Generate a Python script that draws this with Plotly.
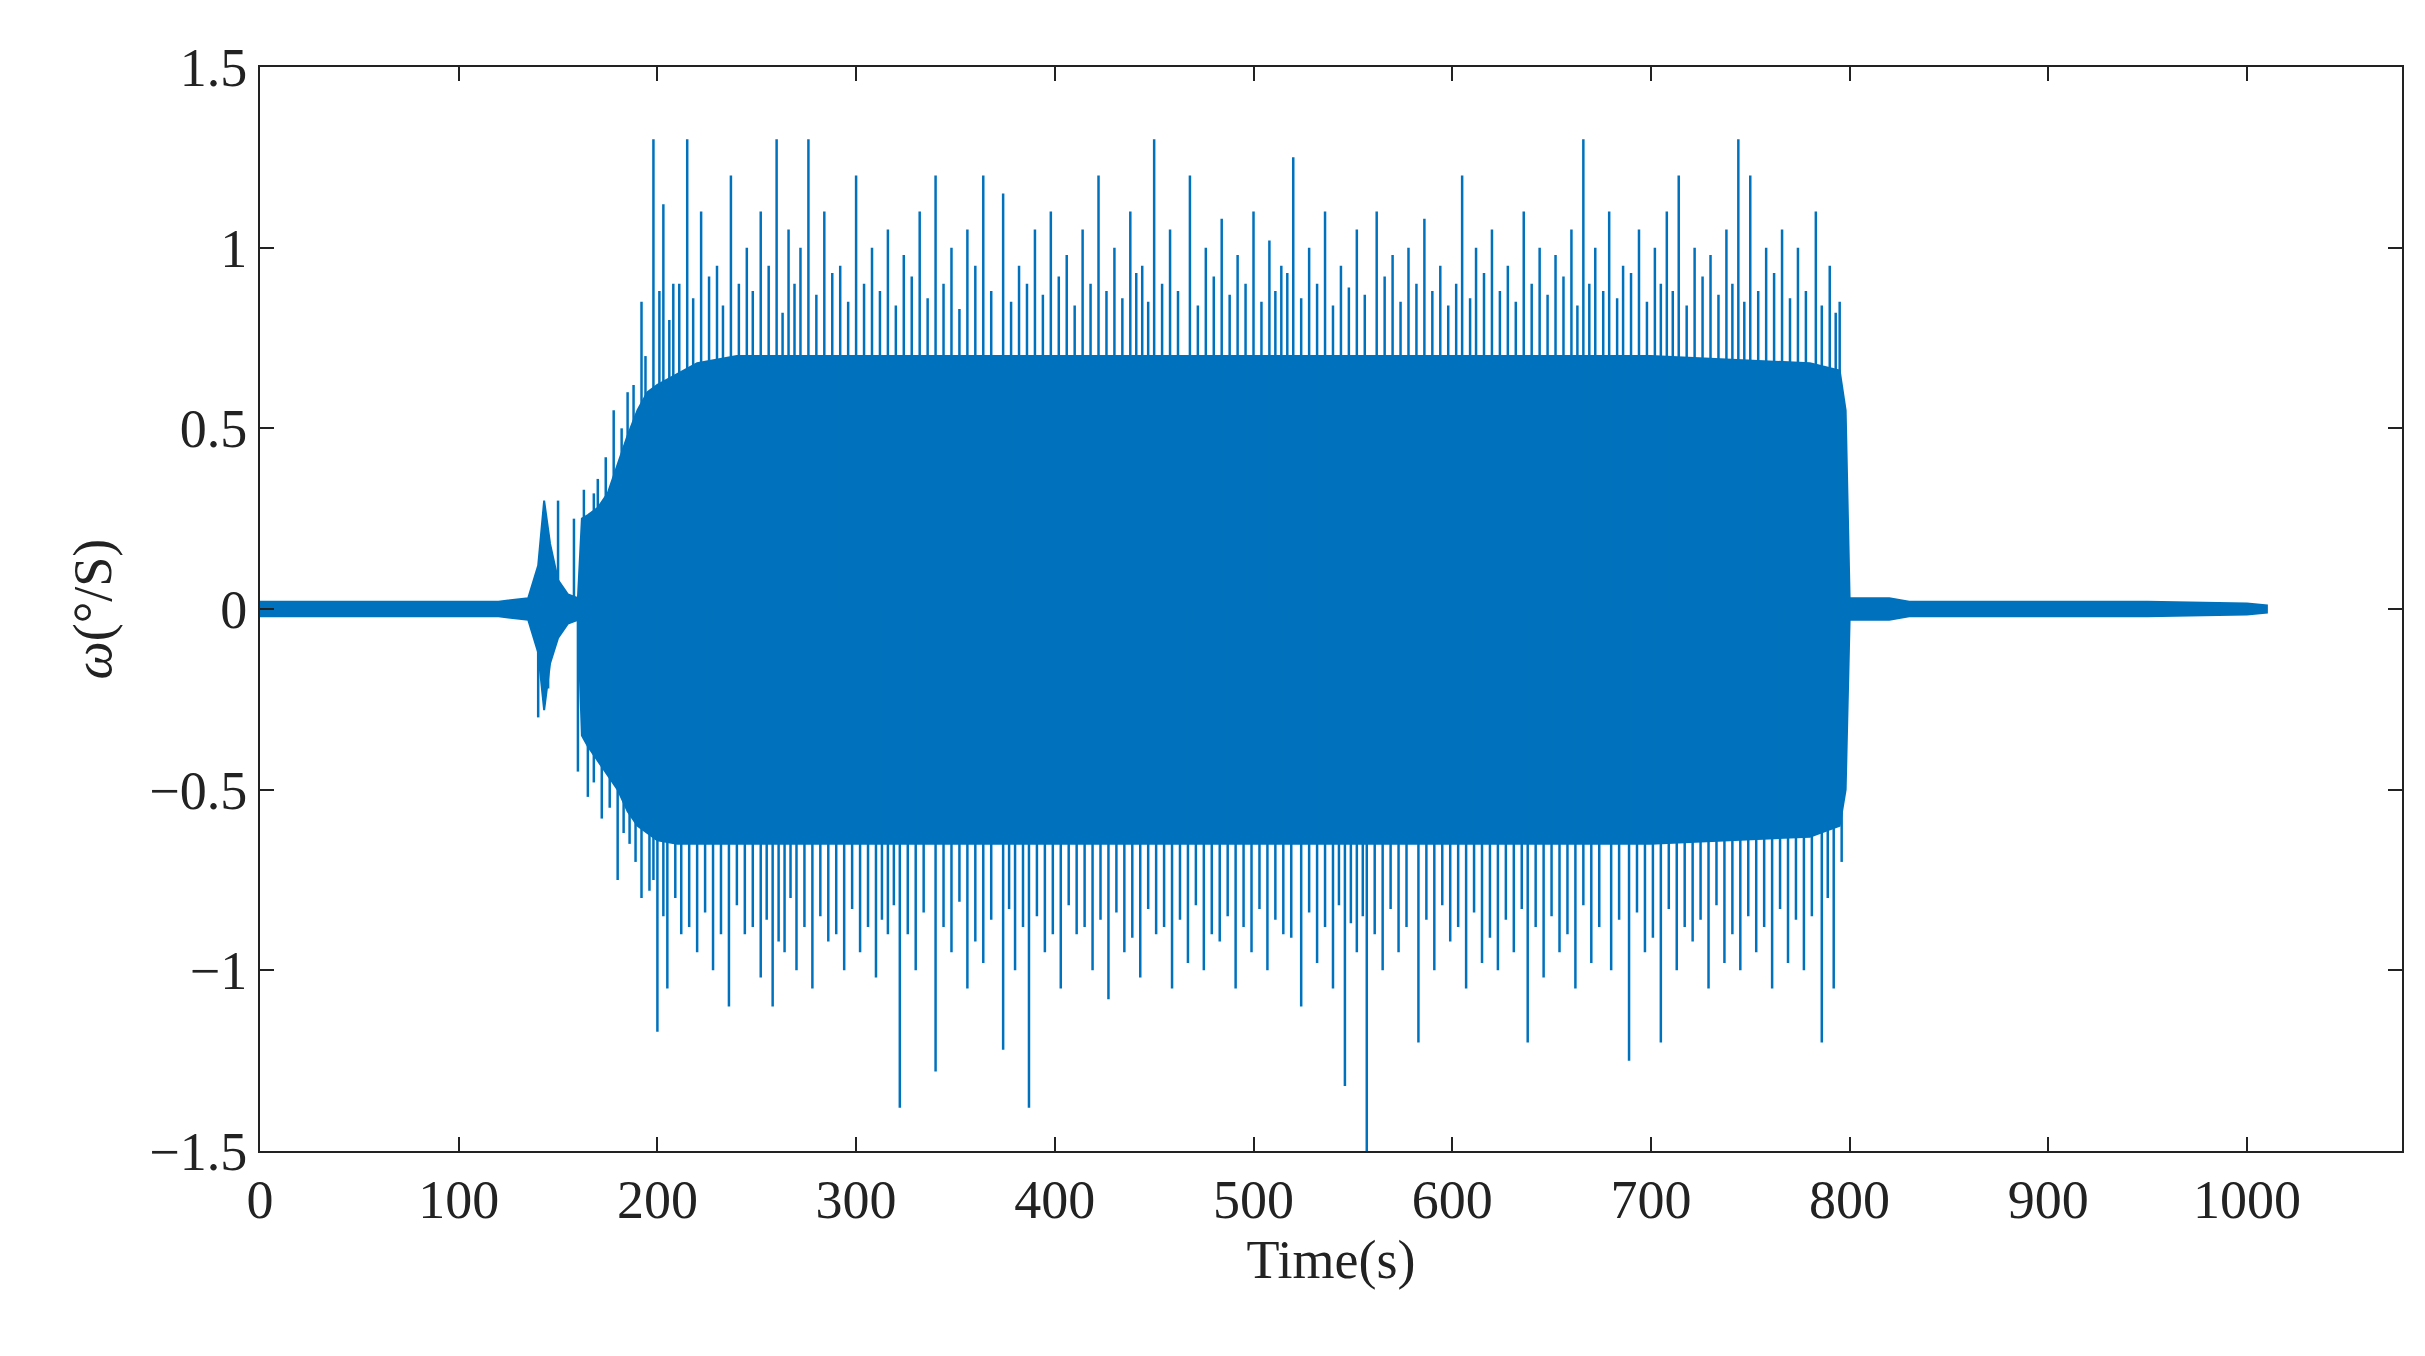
import plotly.graph_objects as go

# Body envelope of the signal (time, upper, lower)
env_t  = [0, 20, 40, 60, 80, 100, 120, 135, 140, 143, 146, 150, 155, 160, 162, 165, 170, 175, 180, 185, 190, 195, 200, 210, 220, 240, 300, 400, 500, 600, 700, 780, 795, 798, 800, 802, 820, 830, 850, 900, 950, 1000, 1010]
env_up = [0.02, 0.02, 0.02, 0.02, 0.02, 0.02, 0.02, 0.03, 0.12, 0.3, 0.18, 0.08, 0.04, 0.03, 0.25, 0.26, 0.28, 0.32, 0.4, 0.48, 0.55, 0.6, 0.62, 0.65, 0.68, 0.7, 0.7, 0.7, 0.7, 0.7, 0.7, 0.68, 0.66, 0.55, 0.03, 0.03, 0.03, 0.02, 0.02, 0.02, 0.02, 0.015, 0.01]
env_lo = [-0.02, -0.02, -0.02, -0.02, -0.02, -0.02, -0.02, -0.03, -0.12, -0.28, -0.15, -0.08, -0.04, -0.03, -0.35, -0.38, -0.42, -0.46, -0.5, -0.56, -0.6, -0.62, -0.64, -0.65, -0.65, -0.65, -0.65, -0.65, -0.65, -0.65, -0.65, -0.63, -0.6, -0.5, -0.03, -0.03, -0.03, -0.02, -0.02, -0.02, -0.02, -0.015, -0.01]

# Tall spikes above body
spk_up_t = [150, 158, 163, 170, 178, 185, 192, 198, 203, 208, 215, 222, 230, 237, 245, 252, 260, 266, 272, 276, 284, 292, 300, 308, 316, 324, 332, 340, 348, 356, 364, 374, 382, 390, 398, 406, 414, 422, 430, 438, 444, 450, 458, 468, 476, 484, 492, 500, 508, 514, 520, 528, 536, 544, 552, 562, 570, 578, 586, 594, 605, 612, 620, 628, 636, 644, 652, 660, 666, 672, 679, 686, 694, 702, 708, 714, 722, 730, 738, 744, 750, 758, 766, 774, 783, 790, 795]
spk_up_v = [0.3, 0.25, 0.33, 0.36, 0.55, 0.6, 0.85, 1.3, 1.12, 0.9, 1.3, 1.1, 0.95, 1.2, 1.0, 1.1, 1.3, 1.05, 1.0, 1.3, 1.1, 0.95, 1.2, 1.0, 1.05, 0.98, 1.1, 1.2, 1.0, 1.05, 1.2, 1.15, 0.95, 1.05, 1.1, 0.98, 1.05, 1.2, 1.0, 1.1, 0.95, 1.3, 1.05, 1.2, 1.0, 1.08, 0.98, 1.1, 1.02, 0.95, 1.25, 1.0, 1.1, 0.95, 1.05, 1.1, 0.98, 1.0, 1.08, 0.95, 1.2, 1.0, 1.05, 0.95, 1.1, 1.0, 0.98, 1.05, 1.3, 1.0, 1.1, 0.95, 1.05, 1.0, 1.1, 1.2, 1.0, 0.98, 1.05, 1.3, 1.2, 1.0, 1.05, 1.0, 1.1, 0.95, 0.85]
# Tall spikes below body
spk_lo_t = [140, 145, 160, 165, 172, 180, 186, 192, 196, 200, 205, 212, 220, 228, 236, 244, 252, 258, 264, 270, 278, 286, 294, 302, 310, 316, 322, 330, 340, 348, 356, 364, 374, 380, 387, 395, 403, 411, 419, 427, 435, 443, 451, 459, 467, 475, 483, 491, 499, 507, 515, 524, 532, 540, 546, 552, 557, 565, 573, 583, 591, 599, 607, 615, 623, 631, 638, 646, 654, 662, 670, 680, 689, 697, 705, 713, 721, 729, 737, 745, 753, 761, 769, 777, 786, 792]
spk_lo_v = [-0.3, -0.22, -0.45, -0.52, -0.58, -0.75, -0.65, -0.8, -0.78, -1.17, -1.05, -0.9, -0.95, -1.0, -1.1, -0.9, -1.02, -1.1, -0.95, -1.0, -1.05, -0.92, -1.0, -0.95, -1.02, -0.9, -1.38, -1.0, -1.28, -0.95, -1.05, -0.98, -1.22, -1.0, -1.38, -0.95, -1.05, -0.9, -1.0, -1.08, -0.95, -1.02, -0.9, -1.05, -0.98, -1.0, -0.92, -1.05, -0.95, -1.0, -0.9, -1.1, -0.98, -1.05, -1.32, -0.95, -1.5, -1.0, -0.95, -1.2, -1.0, -0.92, -1.05, -0.98, -1.0, -0.95, -1.2, -1.02, -0.95, -1.05, -0.98, -1.0, -1.25, -0.95, -1.2, -1.0, -0.92, -1.05, -0.98, -1.0, -0.95, -1.05, -0.98, -1.0, -1.2, -1.05]

# Medium spikes (dense fringe of the band)
mid_up_t = [168, 174, 182, 188, 194, 201, 206, 211, 218, 226, 233, 241, 248, 256, 263, 269, 280, 288, 296, 304, 312, 320, 328, 336, 344, 352, 360, 368, 378, 386, 394, 402, 410, 418, 426, 434, 441, 447, 454, 462, 472, 480, 488, 496, 504, 511, 517, 524, 532, 540, 548, 556, 566, 574, 582, 590, 598, 602, 609, 616, 624, 632, 640, 648, 656, 663, 669, 676, 683, 690, 698, 705, 711, 718, 726, 734, 741, 747, 754, 762, 770, 778, 786, 793]
mid_up_v = [0.32, 0.42, 0.5, 0.62, 0.7, 0.88, 0.8, 0.9, 0.86, 0.92, 0.84, 0.9, 0.88, 0.95, 0.82, 0.9, 0.87, 0.93, 0.85, 0.9, 0.88, 0.84, 0.92, 0.86, 0.9, 0.83, 0.95, 0.88, 0.85, 0.9, 0.87, 0.92, 0.84, 0.9, 0.88, 0.86, 0.93, 0.85, 0.9, 0.88, 0.84, 0.92, 0.87, 0.9, 0.85, 0.88, 0.93, 0.86, 0.9, 0.84, 0.89, 0.87, 0.92, 0.85, 0.9, 0.88, 0.84, 0.9, 0.86, 0.93, 0.88, 0.85, 0.9, 0.87, 0.92, 0.84, 0.9, 0.88, 0.86, 0.93, 0.85, 0.9, 0.88, 0.84, 0.92, 0.87, 0.9, 0.85, 0.88, 0.93, 0.86, 0.88, 0.84, 0.82]
mid_lo_t = [168, 176, 183, 189, 198, 203, 209, 216, 224, 232, 240, 248, 255, 261, 267, 274, 282, 290, 298, 306, 313, 319, 326, 334, 344, 352, 360, 368, 377, 384, 391, 399, 407, 415, 423, 431, 439, 447, 455, 463, 471, 479, 487, 495, 503, 511, 519, 528, 536, 543, 549, 555, 561, 569, 577, 587, 595, 603, 611, 619, 627, 635, 642, 650, 658, 666, 674, 684, 693, 701, 709, 717, 725, 733, 741, 749, 757, 765, 773, 781, 789, 796]
mid_lo_v = [-0.48, -0.55, -0.62, -0.7, -0.75, -0.85, -0.8, -0.88, -0.84, -0.9, -0.82, -0.88, -0.86, -0.92, -0.8, -0.88, -0.85, -0.9, -0.83, -0.88, -0.86, -0.82, -0.9, -0.84, -0.88, -0.81, -0.92, -0.86, -0.83, -0.88, -0.85, -0.9, -0.82, -0.88, -0.86, -0.84, -0.91, -0.83, -0.88, -0.86, -0.82, -0.9, -0.85, -0.88, -0.83, -0.86, -0.91, -0.84, -0.88, -0.82, -0.87, -0.85, -0.9, -0.83, -0.88, -0.86, -0.82, -0.88, -0.84, -0.91, -0.86, -0.83, -0.88, -0.85, -0.9, -0.82, -0.88, -0.86, -0.84, -0.91, -0.83, -0.88, -0.86, -0.82, -0.9, -0.85, -0.88, -0.83, -0.86, -0.85, -0.8, -0.7]

x_ticks = [0, 100, 200, 300, 400, 500, 600, 700, 800, 900, 1000]
y_ticks = [-1.5, -1, -0.5, 0, 0.5, 1, 1.5]
y_labels = ["\u22121.5", "\u22121", "\u22120.5", "0", "0.5", "1", "1.5"]

C = "#0072BD"
fig = go.Figure()
fig.add_trace(go.Scatter(x=env_t + env_t[::-1], y=env_up + env_lo[::-1], fill="toself",
                         fillcolor=C, line=dict(color=C, width=2), mode="lines", hoverinfo="skip"))
sx, sy = [], []
pairs = (list(zip(spk_up_t, spk_up_v)) + list(zip(spk_lo_t, spk_lo_v)) +
         list(zip(mid_up_t, mid_up_v)) + list(zip(mid_lo_t, mid_lo_v)))
for t, v in pairs:
    sx += [t, t, None]
    sy += [0, v, None]
fig.add_trace(go.Scatter(x=sx, y=sy, mode="lines", line=dict(color=C, width=2.5), hoverinfo="skip"))

font = dict(family="Liberation Serif, DejaVu Serif, serif", size=54, color="#222")
ax = dict(showgrid=False, zeroline=False, showline=True, linecolor="#222", linewidth=2,
          mirror="ticks", ticks="inside", ticklen=14, tickwidth=2, tickcolor="#222", tickfont=font)
fig.update_layout(
    width=2425, height=1356, showlegend=False,
    plot_bgcolor="white", paper_bgcolor="white",
    margin=dict(l=252, r=31, t=59, b=213),
    xaxis=dict(**ax, range=[0, 1078], tickvals=x_ticks,
               title=dict(text="Time(s)", font=font, standoff=8)),
    yaxis=dict(**ax, range=[-1.5, 1.5], tickvals=y_ticks, ticktext=y_labels,
               title=dict(text="<i>ω</i>(°/S)", font=font, standoff=20)),
)
fig.write_html("out.html")
